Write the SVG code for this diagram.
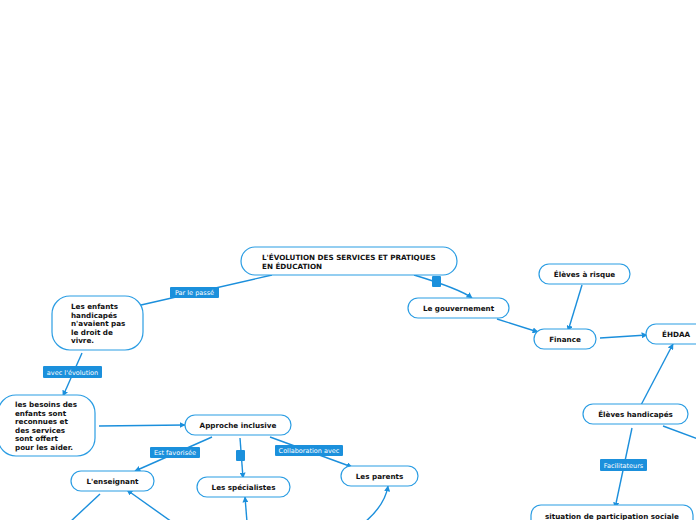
<svg xmlns="http://www.w3.org/2000/svg" width="696" height="520" viewBox="0 0 696 520">
<defs>
<style>
.node rect{fill:#fff;stroke:#2b9de3;stroke-width:1.2}
.node text{font-family:"DejaVu Sans",Verdana,sans-serif;font-weight:bold;font-size:7.2px;fill:#111}
.c{fill:none;stroke:#1b8fdc;stroke-width:1.4}
.lab rect{fill:#1b90dc}
.lab text{font-family:"DejaVu Sans",Verdana,sans-serif;font-size:6.5px;fill:#fff}
.sq{fill:#1b90dc}
</style>
<marker id="ah" viewBox="0 0 10 10" refX="9" refY="5" markerWidth="6" markerHeight="6" orient="auto" markerUnits="userSpaceOnUse">
<path d="M0,0 L10,5 L0,10 z" fill="#1b8fdc"/>
</marker>
</defs>
<rect width="696" height="520" fill="#fff"/>
<g id="connectors">
<path class="c" d="M272,275 L141,305"/>
<path class="c" d="M82,353 L63,396" marker-end="url(#ah)"/>
<path class="c" d="M99,426 L185,425" marker-end="url(#ah)"/>
<path class="c" d="M212,437 L135,471" marker-end="url(#ah)"/>
<path class="c" d="M240,438 L243,478" marker-end="url(#ah)"/>
<path class="c" d="M270,437 L352,467" marker-end="url(#ah)"/>
<path class="c" d="M100,494 L70,522"/>
<path class="c" d="M172,522 L127,490" marker-end="url(#ah)"/>
<path class="c" d="M247,522 L245,497" marker-end="url(#ah)"/>
<path class="c" d="M365,522 Q385,505 388,486" marker-end="url(#ah)"/>
<path class="c" d="M414,275 Q460,289 472,298" marker-end="url(#ah)"/>
<path class="c" d="M497,319 L538,332" marker-end="url(#ah)"/>
<path class="c" d="M582,285 L568,331" marker-end="url(#ah)"/>
<path class="c" d="M600,338 L647,335" marker-end="url(#ah)"/>
<path class="c" d="M641,405 L673,344" marker-end="url(#ah)"/>
<path class="c" d="M663,426 L698,439"/>
<path class="c" d="M632,428 L615,508" marker-end="url(#ah)"/>
<rect class="sq" x="432" y="276" width="9" height="11" rx="1"/>
<rect class="sq" x="236" y="450" width="9" height="11" rx="1"/>
<g class="lab"><rect x="170" y="287" width="49" height="11" rx="1"/><text x="194.5" y="295" text-anchor="middle">Par le passé</text></g>
<g class="lab"><rect x="43" y="366" width="59" height="12" rx="1"/><text x="72.5" y="374.5" text-anchor="middle">avec l'évolution</text></g>
<g class="lab"><rect x="150" y="447" width="50" height="11" rx="1"/><text x="175" y="455" text-anchor="middle">Est favorisée</text></g>
<g class="lab"><rect x="275" y="445" width="68" height="11" rx="1"/><text x="309" y="453" text-anchor="middle">Collaboration avec</text></g>
<g class="lab"><rect x="600" y="459" width="47" height="12" rx="1"/><text x="623.5" y="467.5" text-anchor="middle">Facilitateurs</text></g>
</g>
<g id="n-titre" class="node"><rect x="241" y="247" width="216" height="28" rx="14"/><text x="262" y="260">L'ÉVOLUTION DES SERVICES ET PRATIQUES</text><text x="262" y="268.5">EN ÉDUCATION</text></g>
<g id="n-enfants" class="node"><rect x="52" y="296" width="91" height="54" rx="18"/><text x="71" y="309">Les enfants</text><text x="71" y="317.5">handicapés</text><text x="71" y="326">n'avaient pas</text><text x="71" y="334.5">le droit de</text><text x="71" y="343">vivre.</text></g>
<g id="n-besoins" class="node"><rect x="-2" y="395" width="97" height="61" rx="18"/><text x="15" y="407">les besoins des</text><text x="15" y="415.5">enfants sont</text><text x="15" y="424">reconnues et</text><text x="15" y="432.5">des services</text><text x="15" y="441">sont offert</text><text x="15" y="449.5">pour les aider.</text></g>
<g id="n-approche" class="node"><rect x="185" y="415" width="106" height="20" rx="10"/><text x="238" y="427.5" text-anchor="middle">Approche inclusive</text></g>
<g id="n-enseignant" class="node"><rect x="71" y="471" width="83" height="20" rx="10"/><text x="112.5" y="483.5" text-anchor="middle">L'enseignant</text></g>
<g id="n-specialistes" class="node"><rect x="197" y="477" width="93" height="20" rx="10"/><text x="243.5" y="489.5" text-anchor="middle">Les spécialistes</text></g>
<g id="n-parents" class="node"><rect x="341" y="466" width="77" height="20" rx="10"/><text x="379.5" y="478.5" text-anchor="middle">Les parents</text></g>
<g id="n-gouv" class="node"><rect x="408" y="298" width="101" height="20" rx="10"/><text x="458.5" y="310.5" text-anchor="middle">Le gouvernement</text></g>
<g id="n-risque" class="node"><rect x="539" y="264" width="91" height="20" rx="10"/><text x="584.5" y="276.5" text-anchor="middle">Élèves à risque</text></g>
<g id="n-finance" class="node"><rect x="534" y="329" width="62" height="20" rx="10"/><text x="565" y="341.5" text-anchor="middle">Finance</text></g>
<g id="n-ehdaa" class="node"><rect x="646" y="324" width="60" height="20" rx="10"/><text x="676" y="336.5" text-anchor="middle">ÉHDAA</text></g>
<g id="n-handicapes" class="node"><rect x="583" y="404" width="105" height="20" rx="10"/><text x="635.5" y="416.5" text-anchor="middle">Élèves handicapés</text></g>
<g id="n-situation" class="node"><rect x="531" y="505" width="162" height="26" rx="10"/><text x="612" y="518.5" text-anchor="middle">situation de participation sociale</text></g>
</svg>
